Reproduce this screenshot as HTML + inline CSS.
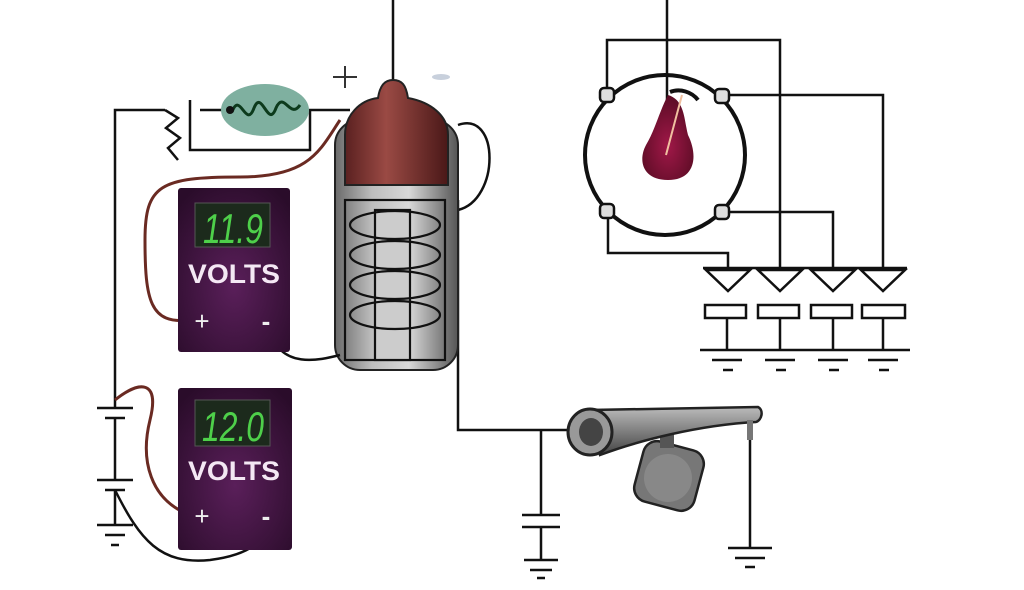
<!DOCTYPE html>
<html><head><meta charset="utf-8"><style>
html,body{margin:0;padding:0;background:#fff;}
svg{display:block}
text{font-family:"Liberation Sans",sans-serif;}
</style></head><body>
<svg width="1024" height="590" viewBox="0 0 1024 590" xmlns="http://www.w3.org/2000/svg">
<defs>
<linearGradient id="coil" x1="0" x2="1">
<stop offset="0" stop-color="#6a6a6a"/><stop offset="0.3" stop-color="#bdbdbd"/><stop offset="0.6" stop-color="#d8d8d8"/><stop offset="1" stop-color="#555"/></linearGradient>
<linearGradient id="cap" x1="0" x2="1">
<stop offset="0" stop-color="#5a2020"/><stop offset="0.4" stop-color="#9a4a44"/><stop offset="1" stop-color="#4a1818"/></linearGradient>
<radialGradient id="meter" cx="0.5" cy="0.6" r="0.7"><stop offset="0" stop-color="#5a1f5a"/><stop offset="1" stop-color="#2a0c2a"/></radialGradient>
<radialGradient id="rot" cx="0.5" cy="0.6" r="0.6"><stop offset="0" stop-color="#a01848"/><stop offset="1" stop-color="#5a0c24"/></radialGradient>
<linearGradient id="arm" x1="0" y1="0" x2="0" y2="1"><stop offset="0" stop-color="#bbb"/><stop offset="1" stop-color="#444"/></linearGradient>
</defs>
<g fill="none" stroke="#111" stroke-width="2.5">
<path d="M115 400 V110 H165"/>
<path d="M165 110 L178 118 L166 128 L180 138 L168 148 L178 160"/>
<path d="M190 100 V150 H310 V110 H350"/>
<path d="M200 110 H222"/>
<path d="M115 400 V408 M97 408 H133 M105 418 H125 M115 418 V480 M97 480 H133 M105 490 H125 M115 490 V525 M97 525 H133 M105 535 H125 M111 545 H119"/>
<path d="M393 0 V92"/>
<path d="M458 125 C500 110 500 200 458 210"/>
<path d="M458 200 V430 H575"/>
<path d="M541 430 V515 M522 515 H560 M522 527 H560 M541 527 V560 M524 560 H558 M530 570 H552 M537 578 H545"/>
<path d="M750 425 V548 M728 548 H772 M735 558 H765 M745 567 H755"/>
<path d="M667 0 V150"/>
<path d="M607 95 V40 H780 V268"/>
<path d="M722 95 H883 V268"/>
<path d="M722 212 H833 V268"/>
<path d="M608 212 V253 H728 V268"/>
<path d="M703 268 H907"/>
<ellipse cx="665" cy="155" rx="80" ry="80" stroke-width="4"/>
</g>
<g fill="#ddd" stroke="#111" stroke-width="2.5">
<rect x="600" y="88" width="14" height="14" rx="4"/>
<rect x="715" y="89" width="14" height="14" rx="4"/>
<rect x="600" y="204" width="14" height="14" rx="4"/>
<rect x="715" y="205" width="14" height="14" rx="4"/>
</g>
<path d="M668 95 C685 100 684 120 688 135 C698 155 696 180 668 180 C642 180 638 160 646 145 C655 130 660 110 668 95Z" fill="url(#rot)"/>
<path d="M666 155 L682 95" stroke="#f0c0a0" stroke-width="2"/>
<path d="M670 92 C680 88 692 92 698 100" stroke="#111" stroke-width="4" fill="none"/>
<g fill="#fff" stroke="#111" stroke-width="2.5">
<path d="M706 270 H750 L728 291Z M758 270 H802 L780 291Z M811 270 H855 L833 291Z M861 270 H905 L883 291Z"/>
<rect x="705" y="305" width="41" height="13"/><rect x="758" y="305" width="41" height="13"/><rect x="811" y="305" width="41" height="13"/><rect x="862" y="305" width="43" height="13"/>
<path fill="none" d="M727 318V350 M780 318V350 M833 318V350 M883 318V350 M700 350 H910 M712 360 H742 M765 360 H795 M818 360 H848 M868 360 H898 M723 370 H733 M776 370 H786 M829 370 H839 M879 370 H889"/>
</g>
<ellipse cx="265" cy="110" rx="44" ry="26" fill="#7fb0a0"/>
<path d="M232 112 C240 90 246 130 254 108 C262 88 268 130 276 108 C284 90 290 120 300 105" stroke="#0c3a1c" stroke-width="3" fill="none"/>
<circle cx="230" cy="110" r="4" fill="#111"/>
<rect x="335" y="120" width="123" height="250" rx="25" fill="url(#coil)" stroke="#222" stroke-width="2"/>
<path d="M345 135 C345 115 360 100 378 98 C380 85 385 80 393 80 C402 80 406 85 408 98 C430 102 448 115 448 135 L448 185 L345 185Z" fill="url(#cap)" stroke="#222" stroke-width="2"/>
<g fill="none" stroke="#111" stroke-width="2.2">
<rect x="345" y="200" width="100" height="160"/>
<rect x="375" y="210" width="35" height="150" fill="#ccc"/>
<ellipse cx="395" cy="225" rx="45" ry="14"/><ellipse cx="395" cy="255" rx="45" ry="14"/><ellipse cx="395" cy="285" rx="45" ry="14"/><ellipse cx="395" cy="315" rx="45" ry="14"/>
</g>
<path d="M345 66 V88 M333 77 H357" stroke="#333" stroke-width="2"/>
<ellipse cx="441" cy="77" rx="9" ry="3" fill="#c8d0dc"/>
<path d="M190 320 C150 325 145 300 145 240 C145 185 160 177 240 177 C310 177 320 150 340 120" stroke="#6a2a22" stroke-width="3" fill="none"/>
<path d="M270 330 C280 370 320 360 340 355" stroke="#111" stroke-width="2.5" fill="none"/>
<path d="M115 400 C140 380 160 380 150 420 C140 460 150 500 190 515" stroke="#6a2a22" stroke-width="3" fill="none"/>
<path d="M115 490 C140 540 160 565 210 560 C250 555 265 540 270 525" stroke="#111" stroke-width="2.5" fill="none"/>
<rect x="178" y="188" width="112" height="164" rx="3" fill="url(#meter)"/>
<rect x="195" y="203" width="75" height="44" fill="#1c2a1c" stroke="#555"/>
<text x="233" y="243" font-size="42" fill="#4ed04a" text-anchor="middle" font-style="italic" textLength="60" lengthAdjust="spacingAndGlyphs">11.9</text>
<text x="234" y="283" font-size="27" font-weight="bold" fill="#f4e8f4" text-anchor="middle" textLength="92" lengthAdjust="spacingAndGlyphs">VOLTS</text>
<text x="202" y="330" font-size="26" fill="#eee" text-anchor="middle">+</text>
<text x="266" y="330" font-size="26" font-weight="bold" fill="#eee" text-anchor="middle">-</text>
<rect x="178" y="388" width="114" height="162" rx="3" fill="url(#meter)"/>
<rect x="195" y="400" width="75" height="46" fill="#1c2a1c" stroke="#555"/>
<text x="233" y="441" font-size="42" fill="#4ed04a" text-anchor="middle" font-style="italic" textLength="62" lengthAdjust="spacingAndGlyphs">12.0</text>
<text x="234" y="480" font-size="27" font-weight="bold" fill="#f4e8f4" text-anchor="middle" textLength="92" lengthAdjust="spacingAndGlyphs">VOLTS</text>
<text x="202" y="525" font-size="26" fill="#eee" text-anchor="middle">+</text>
<text x="266" y="525" font-size="26" font-weight="bold" fill="#eee" text-anchor="middle">-</text>
<rect x="638" y="445" width="62" height="62" rx="14" transform="rotate(15 669 476)" fill="#777" stroke="#222" stroke-width="2.5"/>
<circle cx="668" cy="478" r="24" fill="#888"/>
<rect x="660" y="430" width="14" height="18" fill="#555"/>
<path d="M590 410 L758 407 C764 410 762 420 756 422 C700 425 640 440 600 455 Z" fill="url(#arm)" stroke="#222" stroke-width="2.5"/>
<ellipse cx="590" cy="432" rx="22" ry="23" fill="#999" stroke="#222" stroke-width="3"/>
<ellipse cx="591" cy="432" rx="12" ry="14" fill="#444"/>
<path d="M750 420 V440" stroke="#777" stroke-width="6"/>
</svg>
</body></html>
